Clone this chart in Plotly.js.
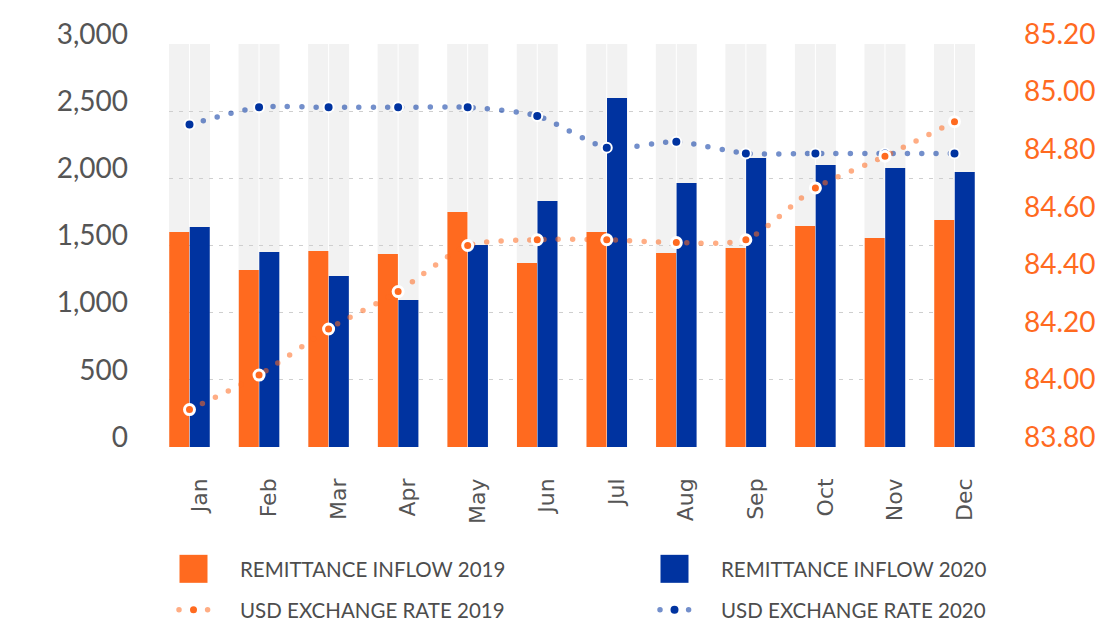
<!DOCTYPE html>
<html><head><meta charset="utf-8">
<script src="https://cdn.plot.ly/plotly-3.0.1.min.js"></script>
<style>
html,body{margin:0;padding:0;background:#fff;}
#chart{width:1096px;height:623px;}
.scatterlayer .js-line, .legendlines path { stroke-linecap: round; }
</style>
</head><body><div id="chart"></div>
<script>
const months = ['Jan','Feb','Mar','Apr','May','Jun','Jul','Aug','Sep','Oct','Nov','Dec'];
const inflow2019 = [1600, 1318, 1459, 1437, 1749, 1370, 1600, 1444, 1481, 1645, 1556, 1690];
const inflow2020 = [1638, 1452, 1273, 1094, 1504, 1831, 2598, 1965, 2151, 2099, 2077, 2047];
const rate2019 = [83.93, 84.05, 84.21, 84.34, 84.50, 84.52, 84.52, 84.51, 84.52, 84.70, 84.81, 84.93];
const rate2020 = [84.92, 84.98, 84.98, 84.98, 84.98, 84.95, 84.84, 84.86, 84.82, 84.82, 84.82, 84.82];
const leftTicks = [0, 500, 1000, 1500, 2000, 2500, 3000];
const rightTicks = [83.8, 84.0, 84.2, 84.4, 84.6, 84.8, 85.0, 85.2];

const ORANGE = '#ff6a1f', BLUE = '#0033a0';
const half = 0.2948, gapHalf = 0.0072;

const shapes = [];
months.forEach((m, i) => {
  shapes.push({type:'rect', xref:'x', yref:'y', x0:i-half, x1:i-gapHalf, y0:leftTicks[0], y1:leftTicks[leftTicks.length-1], fillcolor:'#f2f2f2', line:{width:0}, layer:'below'});
  shapes.push({type:'rect', xref:'x', yref:'y', x0:i+gapHalf, x1:i+half, y0:leftTicks[0], y1:leftTicks[leftTicks.length-1], fillcolor:'#f2f2f2', line:{width:0}, layer:'below'});
});

const traces = [
  {type:'bar', name:'REMITTANCE INFLOW 2019', x:months, y:inflow2019, marker:{color:ORANGE}, legend:'legend', hoverinfo:'skip'},
  {type:'bar', name:'REMITTANCE INFLOW 2020', x:months, y:inflow2020, marker:{color:BLUE}, legend:'legend', hoverinfo:'skip'},
  {type:'scatter', mode:'lines+markers', name:'USD EXCHANGE RATE 2020', x:months, y:rate2020, yaxis:'y2', legend:'legend2',
    line:{color:'rgba(0,51,160,0.55)', width:5.5, dash:'0px,14.3px', shape:'spline', smoothing:0.7},
    marker:{color:BLUE, size:10, line:{color:'#fff', width:2}}, hoverinfo:'skip'},
  {type:'scatter', mode:'lines+markers', name:'USD EXCHANGE RATE 2019', x:months, y:rate2019, yaxis:'y2', legend:'legend2',
    line:{color:'rgba(255,106,31,0.55)', width:5.5, dash:'0px,14.3px', shape:'spline', smoothing:0.7},
    marker:{color:ORANGE, size:10, line:{color:'#fff', width:3}}, hoverinfo:'skip'}
];

const legendFont = {family:'Lato', size:20.5, color:'#4d4d4d'};
const legX = (147-169)/806;
const layout = {
  width:1096, height:623,
  margin:{l:169, r:121, t:44, b:176, autoexpand:false},
  paper_bgcolor:'#fff', plot_bgcolor:'#fff',
  barmode:'group', bargap:0.4105, bargroupgap:0.0244,
  shapes: shapes,
  xaxis:{type:'category', range:[-half, months.length-1+half], showgrid:false, zeroline:false, showline:false, ticks:'',
    tickangle:-90, tickfont:{family:'DejaVu Sans', size:22, color:'#555'}, ticklabelstandoff:26, ticklabelshift:10, fixedrange:true},
  yaxis:{range:[leftTicks[0], leftTicks[leftTicks.length-1]], tickvals:leftTicks, tickformat:',d', showgrid:true, gridcolor:'#cfcfcf', griddash:'4px,6px', gridwidth:1,
    zeroline:false, showline:false, ticks:'', tickfont:{family:'Lato', size:28, color:'#555'}, ticklabelshift:-10, ticklabelstandoff:40, fixedrange:true},
  yaxis2:{overlaying:'y', side:'right', range:[rightTicks[0], rightTicks[rightTicks.length-1]], tickvals:rightTicks, tickformat:'.2f', showgrid:false,
    zeroline:false, showline:false, ticks:'', tickfont:{family:'Lato', size:28, color:ORANGE}, ticklabelshift:-10, ticklabelstandoff:48, fixedrange:true},
  legend:{orientation:'h', xref:'paper', yref:'paper', x:legX, xanchor:'left', y:(447-569)/403, yanchor:'middle',
    itemwidth:83, entrywidth:383, font:legendFont, bgcolor:'rgba(0,0,0,0)', itemclick:false, itemdoubleclick:false},
  legend2:{orientation:'h', xref:'paper', yref:'paper', x:legX, xanchor:'left', y:(447-610)/403, yanchor:'middle', traceorder:'reversed',
    itemwidth:83, entrywidth:383, font:legendFont, bgcolor:'rgba(0,0,0,0)', itemclick:false, itemdoubleclick:false},
  showlegend:true
};

function fixLegend(gd){
  gd.querySelectorAll('.legendpoints path').forEach(p => {
    const d = p.getAttribute('d') || '';
    if (d.replace(/\s/g,'') === 'M6,6H-6V-6H6Z') p.setAttribute('d', 'M14,14H-14V-14H14Z');
  });
  gd.querySelectorAll('.legendlines path').forEach(p => p.setAttribute('d', 'M32,0h29'));
}
const gdEl = document.getElementById('chart');
Plotly.newPlot(gdEl, traces, layout, {staticPlot:true, displayModeBar:false}).then(gd => {
  fixLegend(gd);
  gd.on && gd.on('plotly_afterplot', () => fixLegend(gd));
});
</script>
</body></html>
